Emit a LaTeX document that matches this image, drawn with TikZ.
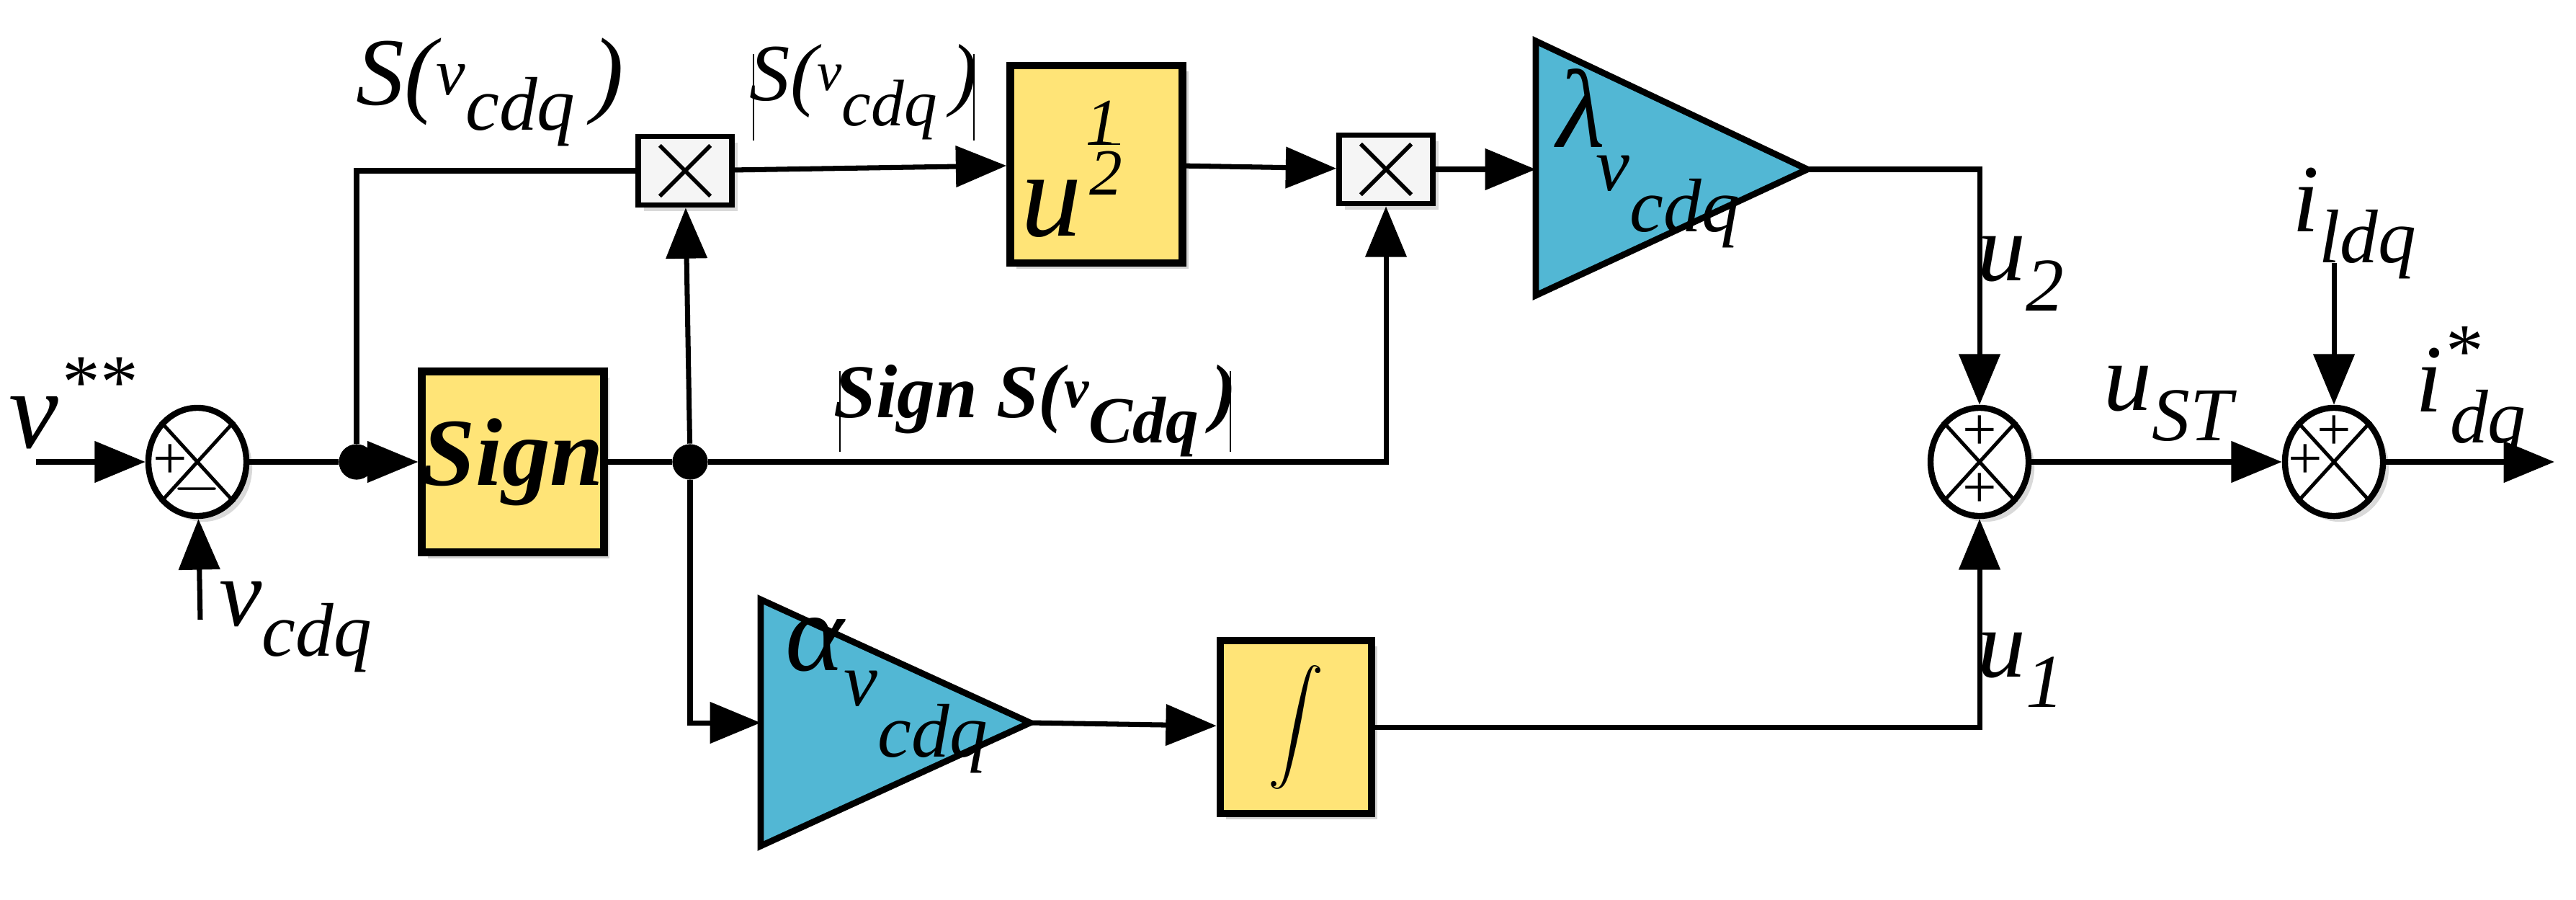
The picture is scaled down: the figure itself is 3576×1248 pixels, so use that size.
\documentclass[tikz,border=0pt]{standalone}
\usepackage{fontspec}
\setmainfont{Liberation Serif}
\usetikzlibrary{arrows.meta,shapes.geometric,shadows}
\definecolor{yel}{HTML}{FFE477}
\definecolor{cya}{HTML}{52B7D4}
\newcommand\dn[2][-12pt]{\raisebox{#1}{\fontsize{30}{30}\selectfont #2}}
\newcommand\sm[2][0pt]{\raisebox{#1}{\fontsize{26}{26}\selectfont #2}}
\newcommand\dns[2][-10pt]{\raisebox{#1}{\fontsize{26}{26}\selectfont #2}}
\newcommand\sms[2][0pt]{\raisebox{#1}{\fontsize{22}{22}\selectfont #2}}
\begin{document}
\begin{tikzpicture}[x=0.01cm,y=-0.01cm,
  ln/.style={line width=2pt},
  ar/.style={ln,-{Triangle[length=20pt,width=16pt]}},
  blk/.style={draw=black,line width=3pt,fill=yel,inner sep=0pt,drop shadow={opacity=0.35}},
  mul/.style={draw=black,line width=2.2pt,fill=gray!8,minimum width=130*0.2845pt,minimum height=95*0.2845pt,inner sep=0pt,drop shadow={opacity=0.3}},
  sumn/.style={ellipse,draw=black,line width=2.4pt,fill=white,minimum width=136*0.2845pt,minimum height=150*0.2845pt,inner sep=0pt,drop shadow={opacity=0.3}},
  tri/.style={draw=black,line width=2.5pt,fill=cya},
  lab/.style={font=\fontsize{38}{40}\selectfont\itshape,inner sep=0pt},
  pm/.style={font=\fontsize{24}{24}\selectfont,inner sep=0pt},
  dot/.style={circle,fill=black,inner sep=0pt,minimum size=14pt}]
\useasboundingbox (0,0) rectangle (3576,1248);
% sums
\node[sumn] (s1) at (274,641) {};
\node[sumn] (s2) at (2748,641) {};
\node[sumn] (s3) at (3240,641) {};
\foreach \s in {s1,s2,s3}{
  \draw[line width=1.4pt] (\s.north west) -- (\s.south east) (\s.north east) -- (\s.south west);}
\node[pm] at ([xshift=-38*0.2845pt]s1.center) {+};
\node[pm] at ([yshift=-38*0.2845pt]s1.center) {$-$};
\node[pm] at ([yshift=40*0.2845pt]s2.center) {+};
\node[pm] at ([yshift=-40*0.2845pt]s2.center) {+};
\node[pm] at ([yshift=40*0.2845pt]s3.center) {+};
\node[pm] at ([xshift=-40*0.2845pt]s3.center) {+};
% blocks
\node[blk,minimum width=217*0.2845pt,minimum height=251*0.2845pt] (sign) at (712,641) {\fontsize{38}{40}\selectfont\bfseries\itshape Sign};
\node[blk,minimum width=239*0.2845pt,minimum height=274*0.2845pt] (pow) at (1522,228) {};
\node[lab,font=\fontsize{48}{48}\selectfont\itshape] at (1460,290) {u};
\node[lab,font=\fontsize{26}{26}\selectfont\itshape] at (1530,170) {1};
\draw[line width=0.8pt] (1510,200) -- (1555,200);
\node[lab,font=\fontsize{26}{26}\selectfont\itshape] at (1535,240) {2};
\node[blk,minimum width=210*0.2845pt,minimum height=240*0.2845pt] (int) at (1799,1009) {\scalebox{2.2}{$\displaystyle\int$}};
\node[mul] (m1) at (951,237) {};
\node[mul] (m2) at (1924,235) {};
\foreach \m in {m1,m2}{
  \draw[line width=1.6pt] ([shift={(-10pt,-10pt)}]\m.center) -- ([shift={(10pt,10pt)}]\m.center) ([shift={(10pt,-10pt)}]\m.center) -- ([shift={(-10pt,10pt)}]\m.center);}
% triangles
\draw[tri] (1056,832) -- (1430,1003) -- (1056,1174) -- cycle;
\coordinate (atip) at (1430,1003); \coordinate (ain) at (1056,1003);
\node[lab,anchor=west,font=\fontsize{44}{44}\selectfont\itshape] at (1090,965) {α\dn[-14pt]{v}\dn[-34pt]{cdq}};
\draw[tri] (2132,57) -- (2509,235) -- (2132,410) -- cycle;
\coordinate (ltip) at (2509,235); \coordinate (lin) at (2132,235);
\node[lab,font=\fontsize{44}{44}\selectfont\itshape] at (2195,150) {λ};
\node[lab,anchor=west] at (2215,280) {\dn[8pt]{v}\dn[-8pt]{cdq}};
% dots and coordinates
\node[dot] (d1) at (495,641) {};
\node[dot] (d2) at (958,641) {};
\coordinate (in) at (50,641);
\coordinate (vb) at (278,860);
\coordinate (il) at (3240,365);
\coordinate (out) at (3546,641);
% connectors
\draw[ar] (in) -- (s1);
\draw[ar] (vb) -- (s1);
\draw[ln] (s1) -- (d1);
\draw[ar] (d1) -- (sign);
\draw[ln] (d1) |- (m1);
\draw[ln] (sign) -- (d2);
\draw[ar] (d2) -- (m1);
\draw[ar] (d2) |- (ain);
\draw[ar] (d2) -| (m2);
\draw[ar] (m1) -- (pow);
\draw[ar] (pow) -- (m2);
\draw[ar] (m2) -- (lin);
\draw[ar] (ltip) -| (s2);
\draw[ar] (atip) -- (int);
\draw[ar] (int) -| (s2);
\draw[ar] (s2) -- (s3);
\draw[ar] (il) -- (s3);
\draw[ar] (s3) -- (out);
% labels
\node[lab,font=\fontsize{44}{44}\selectfont\itshape] at (100,560) {v\raisebox{16pt}{\fontsize{30}{30}\selectfont **}};
\node[lab] at (410,870) {v\dn{cdq}};
\node[lab] at (680,128) {S(\sm[4pt]{v}\dn[-10pt]{cdq}\,)};
\draw[line width=0.6pt] (1046,75) -- (1046,195) (1352,75) -- (1352,195);
\node[lab,font=\fontsize{32}{34}\selectfont\itshape] at (1199,128) {S(\sms[4pt]{v}\dns{cdq}\,)};
\draw[line width=0.6pt] (1166,515) -- (1166,627) (1708,515) -- (1708,627);
\node[lab,font=\fontsize{30}{34}\selectfont\bfseries\itshape] at (1437,570) {Sign S(\sms[4pt]{\bfseries v}\dns{\bfseries Cdq}\,)};
\node[lab] at (2805,380) {u\dn{2}};
\node[lab] at (2805,930) {u\dn{1}};
\node[lab] at (3010,560) {u\dn{ST}};
\node[lab] at (3268,310) {i\dn{ldq}};
\node[lab] at (3430,545) {i\raisebox{14pt}{\fontsize{30}{30}\selectfont *}\hspace{-12pt}\dn{dq}};
\end{tikzpicture}
\end{document}
